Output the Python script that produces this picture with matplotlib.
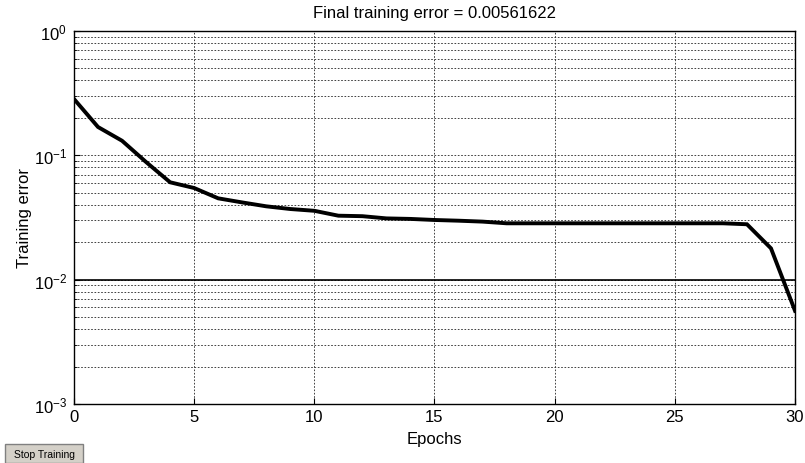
import matplotlib
matplotlib.use('Agg')
import matplotlib.pyplot as plt
import matplotlib.ticker as ticker
from matplotlib.patches import Rectangle

plt.rcParams['font.family'] = ['Liberation Sans', 'DejaVu Sans']
plt.rcParams['mathtext.fontset'] = 'custom'
plt.rcParams['mathtext.rm'] = 'Liberation Sans'
plt.rcParams['mathtext.default'] = 'regular'

# training error per epoch
epochs = list(range(31))
trainError = [0.284, 0.169, 0.131, 0.0883, 0.0607, 0.0546, 0.0451, 0.0418, 0.0389, 0.0370,
              0.0358, 0.0327, 0.0324, 0.0311, 0.0308, 0.0302, 0.0298, 0.0293, 0.0284, 0.0284,
              0.0284, 0.0284, 0.0284, 0.0284, 0.0284, 0.0284, 0.0284, 0.0284, 0.0279, 0.01786,
              0.00561622]
goal = 0.01
titleText = 'Final training error = 0.00561622'

fig = plt.figure(figsize=(8.05, 4.64), dpi=100)
ax = fig.add_axes([0.0919, 0.1272, 0.8957, 0.8038])

ax.semilogy(epochs, trainError, color='k', linewidth=2.8, solid_joinstyle='miter')
ax.axhline(goal, color='k', linewidth=1.2)

ax.set_xlim(0, 30)
ax.set_ylim(1e-3, 1)
ax.xaxis.set_major_locator(ticker.MultipleLocator(5))
ax.yaxis.set_major_locator(ticker.LogLocator(base=10, numticks=10))
ax.yaxis.set_minor_locator(ticker.LogLocator(base=10, subs=range(2, 10), numticks=10))
ax.yaxis.set_minor_formatter(ticker.NullFormatter())

ax.grid(True, which='major', axis='both', color='#222222', linestyle=(0, (2, 2)), linewidth=0.6)
ax.grid(True, which='minor', axis='y', color='#222222', linestyle=(0, (2, 2)), linewidth=0.6)
ax.tick_params(direction='in', labelsize=12, length=4, top=False, right=False)
ax.tick_params(axis='y', pad=5)
ax.tick_params(which='minor', direction='in', length=2)
for s in ax.spines.values():
    s.set_linewidth(1.0)

ax.set_xlabel('Epochs', fontsize=12, labelpad=5)
ax.set_ylabel('Training error', fontsize=12, labelpad=1)
ax.set_title(titleText, fontsize=12, pad=10)

# "Stop Training" button at the bottom left
fig.patches.append(Rectangle((5 / 805, 0), 78 / 805, 19 / 464, transform=fig.transFigure,
                             facecolor='#d4d0c8', edgecolor='#808080', linewidth=1))
fig.text(44 / 805, 9 / 464, 'Stop Training', fontsize=7.5, ha='center', va='center')

fig.savefig('out.png', dpi=100)
